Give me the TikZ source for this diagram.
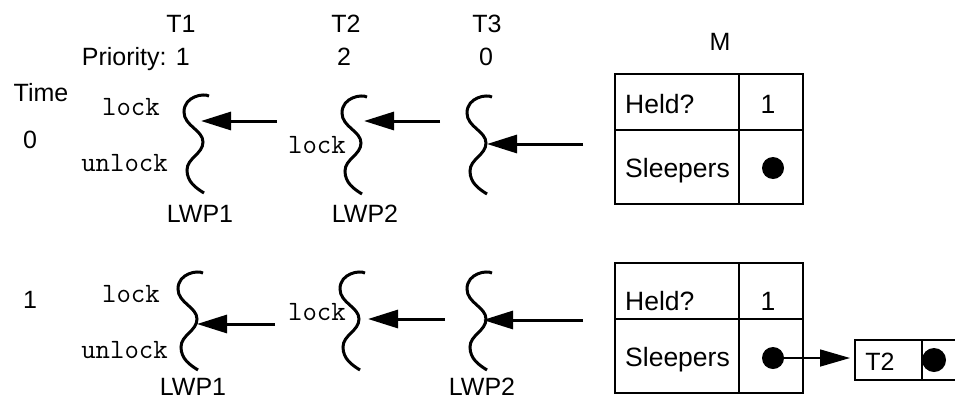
\documentclass[tikz,border=0pt]{standalone}
\usepackage{fontspec}
\setmainfont{Liberation Sans}
\usetikzlibrary{arrows.meta}
\begin{document}
\begin{tikzpicture}[x=1pt,y=-1pt,
  lbl/.style={font=\fontsize{25}{28}\selectfont, inner sep=0pt},
  tlbl/.style={font=\fontsize{26.5}{30}\selectfont, inner sep=0pt},
  mono/.style={font=\ttfamily\fontsize{28}{30}\selectfont, inner sep=0pt},
  thread/.style={line width=3pt},
  call/.style={line width=3pt, -{Triangle[length=30pt,width=18pt]}},
  cell/.style={draw, line width=2.5pt, inner sep=0pt, outer sep=0pt, minimum height=56pt},
  bigcell/.style={cell, minimum height=74pt},
  boxcell/.style={draw, line width=2pt, inner sep=0pt, outer sep=0pt, minimum height=40pt, minimum width=67pt},
  dotn/.style={circle, fill=black, inner sep=0pt, minimum size=22pt},
  link/.style={line width=1.5pt, -{Triangle[length=30pt,width=17pt]}, shorten >=5pt},
  squig/.pic={\draw[thread] (25,2) .. controls (20,-1) and (0,2) .. (0,18)
      .. controls (0,32) and (19,36) .. (19,48)
      .. controls (19,60) and (3,64) .. (3,76)
      .. controls (3,88) and (12,94) .. (20,99);}
]
\clip (0,0) rectangle (955,402);
% headers
\node[lbl, anchor=base] (t1) at (181,32) {T1};
\node[lbl, anchor=base] (t2) at (346,32) {T2};
\node[lbl, anchor=base] (t3) at (487,32) {T3};
\node[lbl, anchor=base east] (p1) at (190,65) {Priority: 1};
\node[lbl, anchor=base] (p2) at (344,65) {2};
\node[lbl, anchor=base] (p3) at (486,65) {0};
\node[lbl, anchor=base] (m) at (720,50) {M};
\node[lbl, anchor=base] (time) at (41,101) {Time};
\node[lbl, anchor=base] (z0) at (30,148) {0};
\node[lbl, anchor=base] (z1) at (30,308) {1};

% ---------- time 0 ----------
\pic at (184,94) {squig};
\pic at (342,95) {squig};
\pic at (467,95) {squig};
\node[mono, anchor=base east] (l0a) at (160,115) {lock};
\node[mono, anchor=base east] (u0a) at (168,171) {unlock};
\node[mono, anchor=base east] (l0b) at (346,153) {lock};
\node[lbl, anchor=base] (w0a) at (200,222) {LWP1};
\node[lbl, anchor=base] (w0b) at (365,222) {LWP2};
\coordinate (a0s1) at (277,121); \coordinate (a0e1) at (201,121);
\coordinate (a0s2) at (440,121); \coordinate (a0e2) at (364,121);
\coordinate (a0s3) at (583,144); \coordinate (a0e3) at (487,144);
\draw[call] (a0s1) -- (a0e1);
\draw[call] (a0s2) -- (a0e2);
\draw[call] (a0s3) -- (a0e3);
\node[cell, minimum width=124pt, anchor=north west] (h0) at (615,74) {};
\node[cell, minimum width=64pt, anchor=north west] (v0) at (739,74) {};
\node[bigcell, minimum width=124pt, anchor=north west] (s0) at (615,130) {};
\node[bigcell, minimum width=64pt, anchor=north west] (d0) at (739,130) {};
\node[tlbl, anchor=base west] (ht0) at (625,113) {Held?};
\node[tlbl, anchor=base] (vt0) at (768,113) {1};
\node[tlbl, anchor=base west] (st0) at (625,177) {Sleepers};
\node[dotn] (dot0) at (773,168) {};

% ---------- time 1 ----------
\pic at (178,271) {squig};
\pic at (340,271) {squig};
\pic at (467,271) {squig};
\node[mono, anchor=base east] (l1a) at (160,302) {lock};
\node[mono, anchor=base east] (u1a) at (168,358) {unlock};
\node[mono, anchor=base east] (l1b) at (346,320) {lock};
\node[lbl, anchor=base] (w1a) at (193,395) {LWP1};
\node[lbl, anchor=base] (w1b) at (482,395) {LWP2};
\coordinate (a1s1) at (275,324); \coordinate (a1e1) at (197,324);
\coordinate (a1s2) at (445,319); \coordinate (a1e2) at (368,319);
\coordinate (a1s3) at (583,320); \coordinate (a1e3) at (483,320);
\draw[call] (a1s1) -- (a1e1);
\draw[call] (a1s2) -- (a1e2);
\draw[call] (a1s3) -- (a1e3);
\node[cell, minimum width=124pt, anchor=north west] (h1) at (615,263) {};
\node[cell, minimum width=64pt, anchor=north west] (v1) at (739,263) {};
\node[bigcell, minimum width=124pt, anchor=north west] (s1) at (615,319) {};
\node[bigcell, minimum width=64pt, anchor=north west] (d1) at (739,319) {};
\node[tlbl, anchor=base west] (ht1) at (625,310) {Held?};
\node[tlbl, anchor=base] (vt1) at (768,310) {1};
\node[tlbl, anchor=base west] (st1) at (625,366) {Sleepers};
\node[dotn] (dot1) at (773,358) {};
% sleeper list
\node[boxcell, anchor=north west] (b1) at (855,340) {};
\node[boxcell, anchor=north west] (b2) at (922,340) {};
\node[lbl, anchor=base] (bt) at (880,370) {T2};
\node[dotn, minimum size=24pt] (bdot) at (934,360) {};
\draw[link] (dot1.center) -- (dot1.center -| b1.west);
\end{tikzpicture}
\end{document}
